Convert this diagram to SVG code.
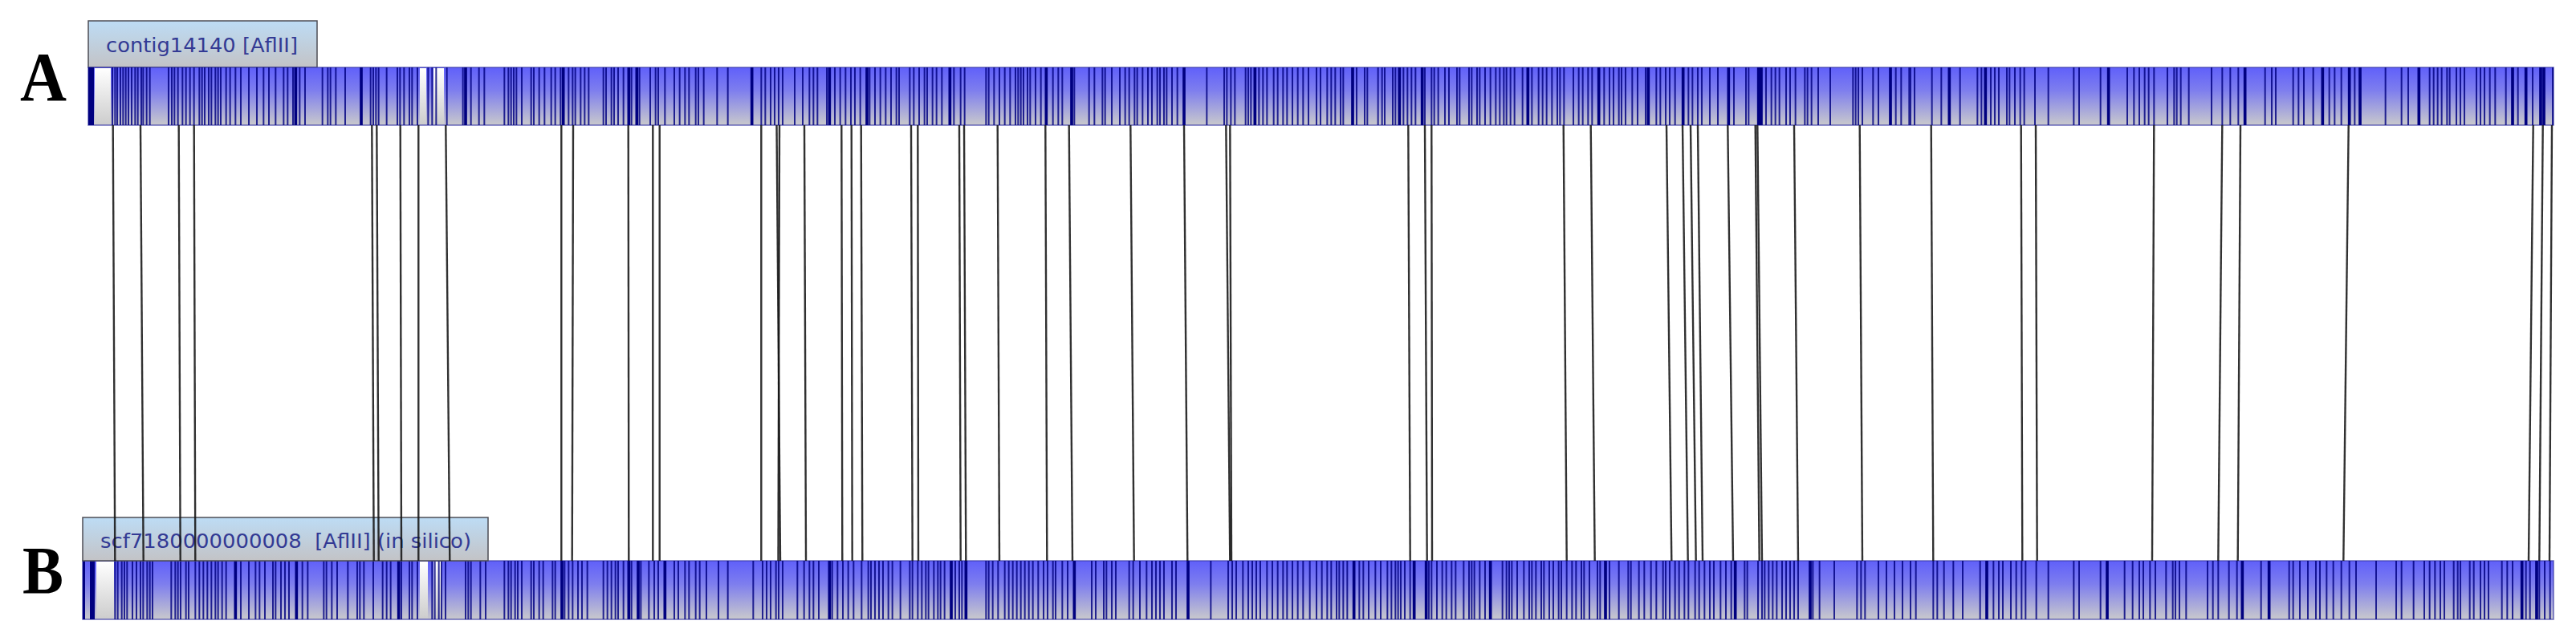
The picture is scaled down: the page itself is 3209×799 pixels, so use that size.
<svg xmlns="http://www.w3.org/2000/svg" width="3209" height="799" viewBox="0 0 3209 799">
<style>
.bg{fill:#ffffff}
.bar{fill:url(#barG);stroke:#3c3ca6;stroke-opacity:.75;stroke-width:1.5}
.wh{fill:url(#whG)}
.blk{fill:#000080}
.s{fill:none;stroke:#000080;stroke-opacity:.82;stroke-width:6}
.t{fill:none;stroke:#000080;stroke-width:11}
.tab{fill:url(#tabG);stroke:#4d4d55;stroke-width:1.5}
.tl{font-family:"DejaVu Sans","Liberation Sans",sans-serif;font-size:25px;fill:#333a94}
.lt{font-family:"Liberation Serif","Times New Roman",serif;font-weight:bold;fill:#000}
.c{stroke:#141414;stroke-opacity:.88;stroke-width:2.4}
</style>
<defs>
<linearGradient id="barG" x1="0" y1="0" x2="0" y2="1">
<stop offset="0" stop-color="#6060fa"/>
<stop offset="0.4" stop-color="#7e7eee"/>
<stop offset="1" stop-color="#c9c9cc"/>
</linearGradient>
<linearGradient id="whG" x1="0" y1="0" x2="0" y2="1">
<stop offset="0" stop-color="#ffffff"/>
<stop offset="1" stop-color="#cdcdcd"/>
</linearGradient>
<linearGradient id="tabG" x1="0" y1="0" x2="0" y2="1">
<stop offset="0" stop-color="#bddcf5"/>
<stop offset="1" stop-color="#c3c3c6"/>
</linearGradient>
</defs>
<rect class="bg" x="0" y="0" width="3209" height="799"/>

<g id="label-A"><text class="lt" x="25" y="125" font-size="86" textLength="58" lengthAdjust="spacingAndGlyphs">A</text></g>
<g id="label-B"><text class="lt" x="28" y="740" font-size="84" textLength="51" lengthAdjust="spacingAndGlyphs">B</text></g>

<g id="contig14140">
<rect class="tab" x="110" y="26" width="285" height="58"/>
<text class="tl" x="132" y="65" textLength="239" lengthAdjust="spacingAndGlyphs">contig14140 [AflII]</text>
<rect class="bar" x="110" y="84" width="3071" height="72"/>
<rect class="wh" x="118" y="85" width="20" height="70"/>
<rect class="wh" x="523" y="85" width="8" height="70"/>
<rect class="wh" x="540" y="85" width="13" height="70"/>
<rect class="blk" x="110" y="84" width="7" height="72"/>
<g transform="translate(90 84) scale(0.333333 72)">
<path class="s" d="M150 0v1M160 0v1M168 0v1M180 0v1M190 0v1M200 0v1M210 0v1M222 0v1M235 0v1M245 0v1M258 0v1M265 0v1M278 0v1M290 0v1M360 0v1M372 0v1M382 0v1M395 0v1M412 0v1M425 0v1M440 0v1M455 0v1M475 0v1M485 0v1M495 0v1M510 0v1M520 0v1M535 0v1M545 0v1M555 0v1M575 0v1M590 0v1M610 0v1M630 0v1M660 0v1M690 0v1M715 0v1M735 0v1M760 0v1M790 0v1M805 0v1M825 0v1M850 0v1M870 0v1M935 0v1M955 0v1M965 0v1M985 0v1M1020 0v1M1115 0v1M1125 0v1M1135 0v1M1145 0v1M1175 0v1M1215 0v1M1225 0v1M1240 0v1M1260 0v1M1270 0v1M1290 0v1M1330 0v1M1345 0v1M1360 0v1M1400 0v1M1460 0v1M1490 0v1M1520 0v1M1540 0v1"/>
<path class="t" d="M835 0v1M1080 0v1M1470 0v1"/>
</g>
<g transform="translate(610 84) scale(0.333333 72)">
<path class="s" d="M55 0v1M70 0v1M80 0v1M90 0v1M100 0v1M120 0v1M155 0v1M165 0v1M185 0v1M205 0v1M230 0v1M245 0v1M265 0v1M295 0v1M310 0v1M320 0v1M340 0v1M355 0v1M370 0v1M425 0v1M435 0v1M455 0v1M465 0v1M480 0v1M500 0v1M530 0v1M560 0v1M600 0v1M620 0v1M630 0v1M655 0v1M690 0v1M710 0v1M730 0v1M745 0v1M770 0v1M780 0v1M800 0v1M850 0v1M890 0v1M1015 0v1M1030 0v1M1050 0v1M1065 0v1M1080 0v1M1095 0v1M1140 0v1M1170 0v1M1195 0v1M1210 0v1M1225 0v1M1260 0v1M1290 0v1M1310 0v1M1330 0v1M1350 0v1M1365 0v1M1385 0v1M1420 0v1M1440 0v1M1460 0v1M1480 0v1M1500 0v1M1520 0v1M1530 0v1"/>
<path class="t" d="M275 0v1M520 0v1M550 0v1M980 0v1M1270 0v1M1410 0v1"/>
</g>
<g transform="translate(1130 84) scale(0.333333 72)">
<path class="s" d="M10 0v1M25 0v1M45 0v1M65 0v1M75 0v1M95 0v1M110 0v1M130 0v1M175 0v1M200 0v1M215 0v1M295 0v1M305 0v1M325 0v1M345 0v1M365 0v1M385 0v1M405 0v1M415 0v1M425 0v1M435 0v1M450 0v1M460 0v1M480 0v1M500 0v1M545 0v1M565 0v1M580 0v1M625 0v1M680 0v1M700 0v1M730 0v1M740 0v1M765 0v1M795 0v1M815 0v1M830 0v1M850 0v1M860 0v1M880 0v1M900 0v1M915 0v1M935 0v1M945 0v1M960 0v1M970 0v1M990 0v1M1010 0v1M1120 0v1M1185 0v1M1195 0v1M1210 0v1M1225 0v1M1265 0v1M1275 0v1M1285 0v1M1315 0v1M1330 0v1M1345 0v1M1370 0v1M1385 0v1M1405 0v1M1420 0v1M1440 0v1M1460 0v1M1480 0v1M1500 0v1M1530 0v1M1545 0v1"/>
<path class="t" d="M160 0v1M520 0v1M615 0v1M1035 0v1M1300 0v1"/>
</g>
<g transform="translate(1650 84) scale(0.333333 72)">
<path class="s" d="M10 0v1M25 0v1M40 0v1M60 0v1M70 0v1M120 0v1M150 0v1M160 0v1M200 0v1M215 0v1M225 0v1M255 0v1M265 0v1M295 0v1M310 0v1M325 0v1M340 0v1M375 0v1M400 0v1M410 0v1M425 0v1M450 0v1M465 0v1M495 0v1M505 0v1M540 0v1M550 0v1M570 0v1M580 0v1M600 0v1M620 0v1M640 0v1M655 0v1M670 0v1M680 0v1M695 0v1M710 0v1M740 0v1M775 0v1M800 0v1M815 0v1M830 0v1M850 0v1M870 0v1M880 0v1M895 0v1M930 0v1M950 0v1M965 0v1M985 0v1M1000 0v1M1045 0v1M1065 0v1M1080 0v1M1100 0v1M1110 0v1M1125 0v1M1150 0v1M1170 0v1M1200 0v1M1240 0v1M1255 0v1M1275 0v1M1290 0v1M1310 0v1M1360 0v1M1375 0v1M1395 0v1M1410 0v1M1440 0v1M1470 0v1M1530 0v1"/>
<path class="t" d="M105 0v1M280 0v1M365 0v1M760 0v1M1025 0v1M1210 0v1M1340 0v1M1510 0v1"/>
</g>
<g transform="translate(2170 84) scale(0.333333 72)">
<path class="s" d="M15 0v1M25 0v1M90 0v1M110 0v1M125 0v1M140 0v1M165 0v1M180 0v1M200 0v1M235 0v1M245 0v1M260 0v1M285 0v1M330 0v1M415 0v1M425 0v1M435 0v1M450 0v1M490 0v1M510 0v1M575 0v1M595 0v1M625 0v1M630 0v1M645 0v1M710 0v1M745 0v1M815 0v1M880 0v1M895 0v1M930 0v1M945 0v1M960 0v1M990 0v1M1000 0v1M1020 0v1M1040 0v1M1055 0v1M1095 0v1M1145 0v1M1240 0v1M1260 0v1M1340 0v1M1440 0v1M1465 0v1M1485 0v1M1505 0v1M1520 0v1M1540 0v1"/>
<path class="t" d="M62 0v1M72 0v1M555 0v1M775 0v1M910 0v1M1370 0v1"/>
</g>
<g transform="translate(2690 84) scale(0.333333 72)">
<path class="s" d="M30 0v1M55 0v1M65 0v1M80 0v1M110 0v1M195 0v1M235 0v1M265 0v1M295 0v1M395 0v1M420 0v1M435 0v1M500 0v1M520 0v1M540 0v1M575 0v1M635 0v1M655 0v1M680 0v1M730 0v1M845 0v1M905 0v1M930 0v1M1010 0v1M1025 0v1M1040 0v1M1055 0v1M1075 0v1M1085 0v1M1110 0v1M1125 0v1M1140 0v1M1185 0v1M1200 0v1M1215 0v1M1235 0v1M1255 0v1M1295 0v1M1340 0v1M1395 0v1M1470 0v1"/>
<path class="t" d="M320 0v1M610 0v1M710 0v1M750 0v1M970 0v1M1320 0v1M1370 0v1M1425 0v1M1437 0v1"/>
</g>
</g>

<g id="scf7180000000008">
<rect class="bar" x="103" y="699" width="3078" height="73"/>
<rect class="wh" x="120" y="700" width="22" height="71"/>
<rect class="wh" x="523" y="700" width="10" height="71"/>
<rect class="wh" x="540" y="700" width="10" height="71"/>
<rect class="blk" x="103" y="699" width="3" height="73"/>
<rect class="blk" x="112" y="699" width="6" height="73"/>
<g transform="translate(90 699) scale(0.333333 73)">
<path class="s" d="M160 0v1M170 0v1M185 0v1M195 0v1M205 0v1M225 0v1M240 0v1M255 0v1M265 0v1M280 0v1M290 0v1M300 0v1M370 0v1M385 0v1M395 0v1M405 0v1M425 0v1M435 0v1M460 0v1M475 0v1M490 0v1M505 0v1M520 0v1M535 0v1M545 0v1M560 0v1M575 0v1M630 0v1M660 0v1M685 0v1M700 0v1M720 0v1M750 0v1M760 0v1M780 0v1M795 0v1M810 0v1M860 0v1M880 0v1M940 0v1M950 0v1M970 0v1M990 0v1M1030 0v1M1065 0v1M1075 0v1M1090 0v1M1125 0v1M1160 0v1M1175 0v1M1190 0v1M1230 0v1M1260 0v1M1270 0v1M1290 0v1M1345 0v1M1355 0v1M1370 0v1M1380 0v1M1395 0v1M1470 0v1M1480 0v1M1490 0v1M1525 0v1M1545 0v1"/>
<path class="t" d="M610 0v1M838 0v1M1220 0v1"/>
</g>
<g transform="translate(610 699) scale(0.333333 73)">
<path class="s" d="M55 0v1M70 0v1M80 0v1M95 0v1M105 0v1M120 0v1M155 0v1M165 0v1M185 0v1M200 0v1M235 0v1M245 0v1M280 0v1M295 0v1M310 0v1M330 0v1M345 0v1M365 0v1M425 0v1M440 0v1M455 0v1M470 0v1M480 0v1M500 0v1M530 0v1M565 0v1M595 0v1M615 0v1M630 0v1M690 0v1M705 0v1M730 0v1M745 0v1M770 0v1M785 0v1M810 0v1M855 0v1M890 0v1M985 0v1M1020 0v1M1035 0v1M1050 0v1M1070 0v1M1080 0v1M1095 0v1M1150 0v1M1175 0v1M1195 0v1M1210 0v1M1230 0v1M1280 0v1M1300 0v1M1320 0v1M1340 0v1M1360 0v1M1390 0v1M1415 0v1M1425 0v1M1440 0v1M1455 0v1M1470 0v1M1490 0v1M1505 0v1M1535 0v1"/>
<path class="t" d="M270 0v1M520 0v1M555 0v1M655 0v1M1270 0v1"/>
</g>
<g transform="translate(1130 699) scale(0.333333 73)">
<path class="s" d="M10 0v1M20 0v1M40 0v1M55 0v1M70 0v1M80 0v1M100 0v1M115 0v1M125 0v1M140 0v1M180 0v1M195 0v1M205 0v1M295 0v1M305 0v1M320 0v1M340 0v1M365 0v1M380 0v1M395 0v1M410 0v1M425 0v1M440 0v1M455 0v1M470 0v1M490 0v1M510 0v1M525 0v1M545 0v1M555 0v1M580 0v1M600 0v1M690 0v1M705 0v1M735 0v1M745 0v1M765 0v1M780 0v1M830 0v1M845 0v1M870 0v1M895 0v1M915 0v1M930 0v1M945 0v1M960 0v1M990 0v1M1005 0v1M1135 0v1M1200 0v1M1215 0v1M1230 0v1M1255 0v1M1275 0v1M1290 0v1M1305 0v1M1320 0v1M1345 0v1M1365 0v1M1385 0v1M1405 0v1M1420 0v1M1440 0v1M1460 0v1M1480 0v1M1505 0v1M1530 0v1M1550 0v1"/>
<path class="t" d="M165 0v1M220 0v1M625 0v1M1050 0v1"/>
</g>
<g transform="translate(1650 699) scale(0.333333 73)">
<path class="s" d="M10 0v1M25 0v1M45 0v1M55 0v1M70 0v1M85 0v1M130 0v1M145 0v1M165 0v1M190 0v1M210 0v1M235 0v1M250 0v1M265 0v1M275 0v1M285 0v1M300 0v1M320 0v1M390 0v1M400 0v1M420 0v1M440 0v1M455 0v1M475 0v1M490 0v1M520 0v1M540 0v1M550 0v1M560 0v1M580 0v1M600 0v1M665 0v1M680 0v1M690 0v1M700 0v1M720 0v1M745 0v1M765 0v1M775 0v1M790 0v1M810 0v1M820 0v1M840 0v1M855 0v1M875 0v1M885 0v1M905 0v1M925 0v1M940 0v1M960 0v1M970 0v1M990 0v1M1020 0v1M1030 0v1M1065 0v1M1100 0v1M1135 0v1M1145 0v1M1175 0v1M1195 0v1M1220 0v1M1240 0v1M1265 0v1M1275 0v1M1290 0v1M1310 0v1M1325 0v1M1345 0v1M1360 0v1M1385 0v1M1400 0v1M1420 0v1M1440 0v1M1455 0v1M1480 0v1M1500 0v1M1520 0v1"/>
<path class="t" d="M110 0v1M335 0v1M380 0v1M620 0v1M1050 0v1M1535 0v1"/>
</g>
<g transform="translate(2170 699) scale(0.333333 73)">
<path class="s" d="M10 0v1M20 0v1M60 0v1M75 0v1M85 0v1M100 0v1M115 0v1M130 0v1M150 0v1M165 0v1M180 0v1M195 0v1M210 0v1M265 0v1M290 0v1M345 0v1M430 0v1M445 0v1M460 0v1M510 0v1M540 0v1M570 0v1M600 0v1M630 0v1M650 0v1M715 0v1M730 0v1M755 0v1M790 0v1M825 0v1M890 0v1M940 0v1M960 0v1M975 0v1M1005 0v1M1025 0v1M1045 0v1M1060 0v1M1100 0v1M1145 0v1M1240 0v1M1260 0v1M1340 0v1M1430 0v1M1460 0v1M1485 0v1M1500 0v1M1525 0v1M1545 0v1"/>
<path class="t" d="M255 0v1M915 0v1M1365 0v1"/>
</g>
<g transform="translate(2690 699) scale(0.333333 73)">
<path class="s" d="M25 0v1M50 0v1M60 0v1M75 0v1M100 0v1M180 0v1M200 0v1M220 0v1M260 0v1M290 0v1M380 0v1M485 0v1M500 0v1M525 0v1M555 0v1M585 0v1M600 0v1M625 0v1M650 0v1M680 0v1M710 0v1M735 0v1M810 0v1M885 0v1M905 0v1M950 0v1M990 0v1M1010 0v1M1030 0v1M1050 0v1M1065 0v1M1100 0v1M1115 0v1M1125 0v1M1160 0v1M1175 0v1M1200 0v1M1215 0v1M1230 0v1M1280 0v1M1300 0v1M1320 0v1M1370 0v1M1385 0v1M1420 0v1M1440 0v1M1460 0v1"/>
<path class="t" d="M310 0v1M410 0v1M1355 0v1M1410 0v1"/>
</g>
<rect class="tab" x="103" y="645" width="505" height="54"/>
<text class="tl" x="125" y="683" textLength="462" lengthAdjust="spacingAndGlyphs">scf7180000000008&#160; [AflII] (in silico)</text>
</g>

<g id="connectors">
<line class="c" x1="140.7" y1="156" x2="143.3" y2="699"/>
<line class="c" x1="175" y1="156" x2="178.7" y2="699"/>
<line class="c" x1="222.7" y1="156" x2="224.7" y2="699"/>
<line class="c" x1="241.7" y1="156" x2="243.3" y2="699"/>
<line class="c" x1="463.3" y1="156" x2="465.7" y2="699"/>
<line class="c" x1="469.3" y1="156" x2="471.7" y2="699"/>
<line class="c" x1="498.7" y1="156" x2="500" y2="699"/>
<line class="c" x1="521.3" y1="156" x2="521.3" y2="699"/>
<line class="c" x1="555.3" y1="156" x2="560.3" y2="699"/>
<line class="c" x1="699.3" y1="156" x2="699.3" y2="699"/>
<line class="c" x1="714" y1="156" x2="712.7" y2="699"/>
<line class="c" x1="782.7" y1="156" x2="783.3" y2="699"/>
<line class="c" x1="813.3" y1="156" x2="813.3" y2="699"/>
<line class="c" x1="821.7" y1="156" x2="821.7" y2="699"/>
<line class="c" x1="948.3" y1="156" x2="948.3" y2="699"/>
<line class="c" x1="967.5" y1="156" x2="972" y2="699"/>
<line class="c" x1="971" y1="156" x2="969.5" y2="699"/>
<line class="c" x1="1002" y1="156" x2="1004" y2="699"/>
<line class="c" x1="1048.3" y1="156" x2="1049.3" y2="699"/>
<line class="c" x1="1060.7" y1="156" x2="1061.7" y2="699"/>
<line class="c" x1="1072.7" y1="156" x2="1074.3" y2="699"/>
<line class="c" x1="1135" y1="156" x2="1136.7" y2="699"/>
<line class="c" x1="1143.3" y1="156" x2="1144" y2="699"/>
<line class="c" x1="1195" y1="156" x2="1196.7" y2="699"/>
<line class="c" x1="1201" y1="156" x2="1203.3" y2="699"/>
<line class="c" x1="1242.7" y1="156" x2="1245" y2="699"/>
<line class="c" x1="1302.3" y1="156" x2="1304.3" y2="699"/>
<line class="c" x1="1331.7" y1="156" x2="1336" y2="699"/>
<line class="c" x1="1408.3" y1="156" x2="1412.7" y2="699"/>
<line class="c" x1="1475" y1="156" x2="1479.3" y2="699"/>
<line class="c" x1="1527.3" y1="156" x2="1532.3" y2="699"/>
<line class="c" x1="1532.3" y1="156" x2="1534" y2="699"/>
<line class="c" x1="1754.3" y1="156" x2="1756.7" y2="699"/>
<line class="c" x1="1775" y1="156" x2="1777.7" y2="699"/>
<line class="c" x1="1783.3" y1="156" x2="1784" y2="699"/>
<line class="c" x1="1947.7" y1="156" x2="1951.7" y2="699"/>
<line class="c" x1="1981.7" y1="156" x2="1986.7" y2="699"/>
<line class="c" x1="2076" y1="156" x2="2082.3" y2="699"/>
<line class="c" x1="2096" y1="156" x2="2102.7" y2="699"/>
<line class="c" x1="2106" y1="156" x2="2112.7" y2="699"/>
<line class="c" x1="2115" y1="156" x2="2121" y2="699"/>
<line class="c" x1="2152.3" y1="156" x2="2159" y2="699"/>
<line class="c" x1="2186.7" y1="156" x2="2191.7" y2="699"/>
<line class="c" x1="2189.3" y1="156" x2="2195" y2="699"/>
<line class="c" x1="2235" y1="156" x2="2240" y2="699"/>
<line class="c" x1="2316.7" y1="156" x2="2320" y2="699"/>
<line class="c" x1="2405.7" y1="156" x2="2408.3" y2="699"/>
<line class="c" x1="2517.7" y1="156" x2="2519.3" y2="699"/>
<line class="c" x1="2536" y1="156" x2="2537.7" y2="699"/>
<line class="c" x1="2683.3" y1="156" x2="2681" y2="699"/>
<line class="c" x1="2768.3" y1="156" x2="2763.3" y2="699"/>
<line class="c" x1="2791" y1="156" x2="2787.7" y2="699"/>
<line class="c" x1="2925.7" y1="156" x2="2919.3" y2="699"/>
<line class="c" x1="3155.7" y1="156" x2="3150" y2="699"/>
<line class="c" x1="3167.7" y1="156" x2="3163.3" y2="699"/>
<line class="c" x1="3179" y1="156" x2="3176" y2="699"/>
</g>
</svg>
